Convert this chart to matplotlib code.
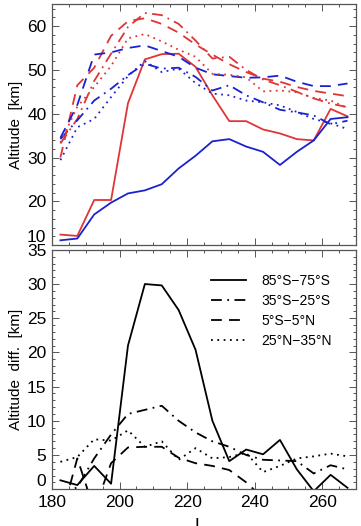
import numpy as np
import matplotlib
matplotlib.use("Agg")
import matplotlib.pyplot as plt
from matplotlib.ticker import MultipleLocator

# --------------------------------------------------
# Data
# --------------------------------------------------
ls_bins = [182.5, 187.5, 192.5, 197.5, 202.5, 207.5, 212.5, 217.5, 222.5,
           227.5, 232.5, 237.5, 242.5, 247.5, 252.5, 257.5, 262.5, 267.5]

# top panel: red / blue altitude for each latitude band
red_85s = [12.4, 12.1, 20.3, 20.3, 42.4, 52.4, 53.6, 53.7, 50.7,
           44.2, 38.3, 38.3, 36.4, 35.5, 34.2, 33.9, 41.1, 39.4]
blue_85s = [11.1, 11.5, 17.0, 19.7, 21.8, 22.5, 23.9, 27.5, 30.4,
            33.7, 34.2, 32.5, 31.3, 28.3, 31.3, 33.9, 38.8, 39.2]

red_35s = [33.2, 38.8, 47.5, 53.7, 59.8, 63.0, 62.5, 60.5, 56.7,
           52.6, 53.0, 50.0, 47.8, 46.5, 45.0, 43.5, 42.3, 41.5]
blue_35s = [34.2, 38.5, 43.0, 45.7, 48.8, 51.4, 50.3, 50.5, 48.4,
            45.3, 46.5, 44.2, 42.6, 40.9, 40.3, 39.6, 37.6, 38.4]

red_eq = [30.0, 46.5, 50.5, 57.8, 61.1, 61.8, 60.5, 58.5, 55.8,
          53.5, 51.3, 49.5, 48.0, 47.3, 46.1, 45.2, 44.6, 44.0]
blue_eq = [34.5, 42.0, 53.5, 54.0, 55.0, 55.6, 54.3, 53.0, 50.5,
           49.0, 48.6, 48.2, 48.3, 48.7, 47.3, 46.3, 46.3, 46.9]

red_25n = [33.4, 41.6, 46.1, 50.9, 57.2, 58.2, 56.5, 54.6, 53.0,
           49.1, 48.9, 48.3, 45.1, 45.3, 44.9, 43.6, 43.0, 41.3]
blue_25n = [29.4, 36.9, 38.8, 43.8, 48.6, 52.0, 49.5, 50.3, 47.0,
            44.6, 44.2, 43.0, 42.6, 41.9, 40.4, 38.8, 37.8, 36.5]

# bottom panel: altitude difference
diff_85s = [1.3, 0.6, 3.4, 0.8, 21.0, 30.0, 29.8, 26.2, 20.4,
            10.0, 4.1, 5.8, 5.1, 7.2, 2.9, -0.3, 2.1, 0.2]
diff_35s = [-1.0, 0.3, 4.5, 8.0, 11.0, 11.6, 12.2, 10.0, 8.3,
            7.0, 6.2, 5.0, 4.3, 4.2, 4.1, 2.3, 3.5, 2.9]
diff_eq = [-4.5, 4.5, -3.0, 3.8, 6.1, 6.2, 6.2, 4.6, 3.8,
           3.4, 2.8, 1.0, -1.3, -2.0, -2.0, -2.0, -2.0, -2.8]
diff_25n = [4.0, 4.7, 7.3, 7.1, 8.6, 6.2, 7.0, 4.3, 6.0,
            4.5, 4.7, 5.3, 2.5, 3.4, 4.5, 4.8, 5.2, 4.8]

band_labels = ["85°S−75°S", "35°S−25°S", "5°S−5°N", "25°N−35°N"]

# --------------------------------------------------
# Styles
# --------------------------------------------------
styles = ["-", (0, (6, 3, 1, 3)), (0, (6, 4)), (0, (1, 2.5))]
red = "#e03535"
blue = "#1a22d0"
lw = 1.3

plt.rcParams["font.family"] = ["Liberation Sans", "DejaVu Sans"]
plt.rcParams["font.size"] = 11

fig = plt.figure(figsize=(3.61, 5.26), dpi=100)
left, width = 0.144, 0.842
ax1 = fig.add_axes([left, 0.534, width, 0.458])
ax2 = fig.add_axes([left, 0.070, width, 0.455])


def style_axes(ax):
    for s in ax.spines.values():
        s.set_color("#555555")
        s.set_linewidth(0.9)
    ax.tick_params(which="both", direction="in", top=True, right=True,
                   color="#555555", width=0.7, labelsize=12.5, pad=4)
    ax.tick_params(which="major", length=5)
    ax.tick_params(which="minor", length=2.5)
    ax.xaxis.set_major_locator(MultipleLocator(20))
    ax.xaxis.set_minor_locator(MultipleLocator(5))
    ax.set_xlim(180, 270)


# --------------------------------------------------
# Top panel
# --------------------------------------------------
reds = [red_85s, red_35s, red_eq, red_25n]
blues = [blue_85s, blue_35s, blue_eq, blue_25n]
for r, b, st in zip(reds, blues, styles):
    ax1.plot(ls_bins, r, color=red, lw=lw, linestyle=st)
    ax1.plot(ls_bins, b, color=blue, lw=lw, linestyle=st)

style_axes(ax1)
ax1.set_ylim(10, 65)
ax1.yaxis.set_major_locator(MultipleLocator(10))
ax1.yaxis.set_minor_locator(MultipleLocator(2))
ax1.tick_params(labelbottom=False)
ax1.set_ylabel("Altitude  [km]", labelpad=3)

# --------------------------------------------------
# Bottom panel
# --------------------------------------------------
diffs = [diff_85s, diff_35s, diff_eq, diff_25n]
for d, st, lab in zip(diffs, styles, band_labels):
    ax2.plot(ls_bins, d, color="black", lw=lw, linestyle=st, label=lab)

style_axes(ax2)
ax2.set_ylim(0, 35)
ax2.yaxis.set_major_locator(MultipleLocator(5))
ax2.yaxis.set_minor_locator(MultipleLocator(1))
ax2.set_ylabel("Altitude  diff.  [km]", labelpad=3)
ax2.legend(loc="upper right", frameon=False, handlelength=2.5,
           handletextpad=1.1, labelspacing=0.42, fontsize=10,
           borderaxespad=1.45, borderpad=0.3)

# lift the lowest y labels a little, as in the original
fig.canvas.draw()
for ax, low in ((ax1, "10"), (ax2, "0")):
    for lab in ax.get_yticklabels():
        if lab.get_text() == low:
            lab.set_va("bottom")

fig.text(0.563, 1 - 516 / 526, "L$_s$", ha="center", va="top", fontsize=13)

fig.savefig("out.png", dpi=100)
